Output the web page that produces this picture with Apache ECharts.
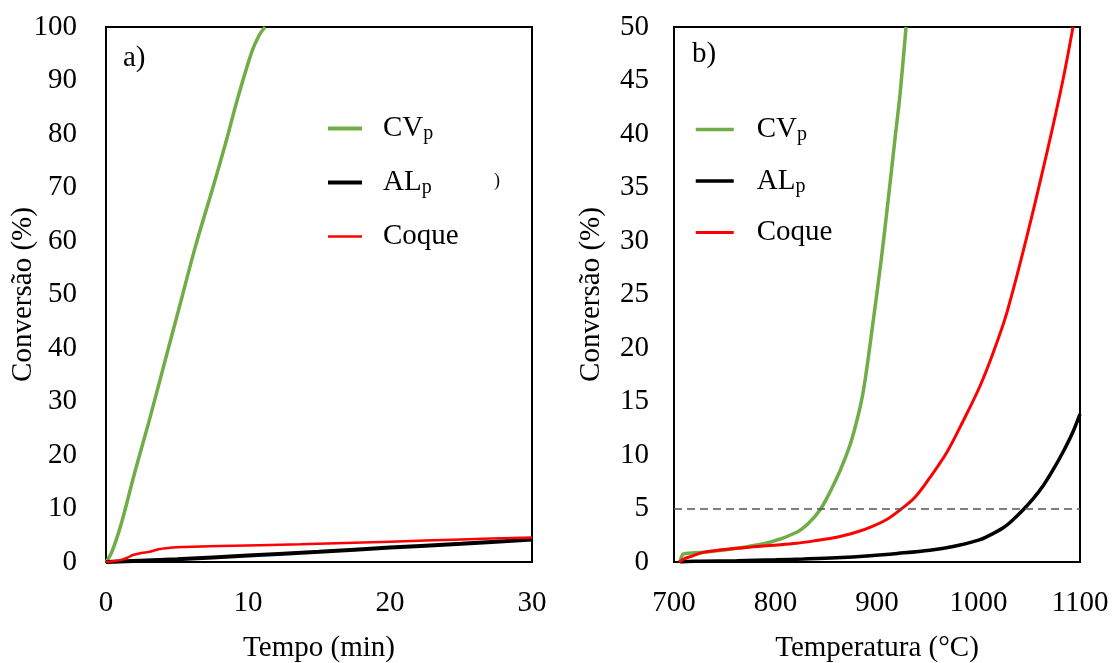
<!DOCTYPE html>
<html>
<head>
<meta charset="utf-8">
<script src="https://cdn.jsdelivr.net/npm/echarts@6/dist/echarts.min.js"></script>
<style>html,body{margin:0;padding:0;background:#fff;}#c{width:1115px;height:663px;}</style>
</head>
<body>
<div id="c"></div>
<script>
// ---- panel a) : Tempo (min) ----
const aCV_t   = [0, 0.4, 1.1, 2, 3, 4, 5.2, 6.3, 7.56, 8.5, 9.2, 10.26, 10.8, 11.2];
const aCV_y   = [0, 1.8, 7.4, 16.5, 26, 36, 48, 59, 70.3, 79, 86, 95.3, 98.5, 100];
const aAL_t   = [0, 5, 10, 15, 20, 25, 30];
const aAL_y   = [0, 0.5, 1.2, 1.9, 2.7, 3.4, 4.2];
const aCo_t   = [0, 0.5, 1, 1.5, 1.9, 2.5, 3.1, 3.7, 4.5, 5.4, 8, 13.7, 20, 25, 30];
const aCo_y   = [0, 0.15, 0.35, 0.8, 1.3, 1.7, 1.9, 2.4, 2.65, 2.8, 3.0, 3.3, 3.8, 4.2, 4.6];
// ---- panel b) : Temperatura (°C) ----
const bCV_T   = [705.9, 707.5, 709.2, 728.9, 761.8, 794.6, 820.9, 832.3, 843.8, 853.7, 863.5, 873.4, 879.3, 885.2, 889.2, 895.1, 904.0, 910.9, 917.7, 922.7, 928.6];
const bCV_y   = [0, 0.5, 0.75, 0.91, 1.28, 1.84, 2.78, 3.6, 4.86, 6.54, 8.5, 10.93, 12.9, 15.3, 17.6, 21.7, 28.13, 33.74, 39.53, 43.74, 50];
const bAL_T   = [706, 720, 761.8, 800, 827.4, 860, 893.1, 920, 952, 975, 1000, 1008, 1024.4, 1034, 1043.8, 1053.7, 1063.5, 1073.4, 1083.3, 1092.1, 1100];
const bAL_y   = [0, 0.08, 0.12, 0.2, 0.28, 0.4, 0.59, 0.8, 1.1, 1.45, 2.05, 2.35, 3.2, 3.95, 4.86, 5.89, 7.1, 8.6, 10.28, 11.96, 13.83];
const bCo_T   = [705, 710, 716, 729, 762, 795, 821, 840, 860.3, 880, 893.1, 910, 922.7, 937.4, 952.2, 969.0, 985, 1001.5, 1015, 1028.1, 1047.8, 1067.5, 1083.3, 1093.1];
const bCo_y   = [0, 0.3, 0.5, 0.9, 1.28, 1.55, 1.75, 2.0, 2.31, 2.8, 3.24, 4.0, 4.86, 6.05, 7.9, 10.28, 13.2, 16.45, 19.7, 23.36, 30.47, 38.3, 45.1, 50];
const refLine = 5;
const seriesNames = ['CVp', 'ALp', 'Coque'];

const zip = (xs, ys) => xs.map((x, i) => [x, ys[i]]);
const FONT = 'Liberation Serif';
const GREEN = '#70AD47', BLACK = '#000000', RED = '#FF0000';

const legendFormatter = function (name) {
  if (name === 'CVp') return '{sp| }{n|CV}{s|p}';
  if (name === 'ALp') return '{sp| }{n|AL}{s|p}';
  return '{sp| }{n|Coque}';
};
function legendRich(spw) {
  return {
    sp: { width: spw, fontSize: 10, lineHeight: 34 },
    n: { fontFamily: FONT, fontSize: 29, lineHeight: 34, color: '#000' },
    s: { fontFamily: FONT, fontSize: 20, color: '#000', padding: [11, 0, 0, 0] }
  };
}
const axisLabel = { fontFamily: FONT, fontSize: 29, color: '#000', formatter: v => String(v) };
const nameStyle = { fontFamily: FONT, fontSize: 29, color: '#000' };
const plain = { axisLine: { show: false }, axisTick: { show: false }, splitLine: { show: false }, nameMoveOverlap: false };

const chart = echarts.init(document.getElementById('c'), null, { renderer: 'canvas' });
chart.setOption({
  animation: false,
  backgroundColor: '#fff',
  grid: [
    { left: 106, top: 27, width: 426, height: 535, show: true, borderColor: '#000', borderWidth: 2, backgroundColor: 'transparent', containLabel: false, outerBoundsMode: 'none' },
    { left: 674, top: 27, width: 406, height: 535, show: true, borderColor: '#000', borderWidth: 2, backgroundColor: 'transparent', containLabel: false, outerBoundsMode: 'none' }
  ],
  xAxis: [
    Object.assign({ gridIndex: 0, type: 'value', min: 0, max: 30, interval: 10, name: 'Tempo (min)', nameLocation: 'middle', nameGap: 72, nameTextStyle: nameStyle,
      axisLabel: Object.assign({ margin: 27 }, axisLabel) }, plain),
    Object.assign({ gridIndex: 1, type: 'value', min: 700, max: 1100, interval: 100, name: 'Temperatura (°C)', nameLocation: 'middle', nameGap: 72, nameTextStyle: nameStyle,
      axisLabel: Object.assign({ margin: 27 }, axisLabel) }, plain)
  ],
  yAxis: [
    Object.assign({ gridIndex: 0, type: 'value', min: 0, max: 100, interval: 10, name: 'Conversão (%)', nameLocation: 'middle', nameGap: 68, nameTextStyle: nameStyle,
      axisLabel: Object.assign({ margin: 29 }, axisLabel) }, plain),
    Object.assign({ gridIndex: 1, type: 'value', min: 0, max: 50, interval: 5, name: 'Conversão (%)', nameLocation: 'middle', nameGap: 68, nameTextStyle: nameStyle,
      axisLabel: Object.assign({ margin: 25 }, axisLabel) }, plain)
  ],
  legend: [
    { orient: 'vertical', left: 321, top: 109, itemWidth: 34, itemHeight: 14, itemGap: 24, selectedMode: false,
      formatter: legendFormatter, textStyle: { rich: legendRich(16) },
      data: [
        { name: 'CVp', itemStyle: { opacity: 0 }, lineStyle: { width: 4, color: GREEN } },
        { name: 'ALp', itemStyle: { opacity: 0 }, lineStyle: { width: 4, color: BLACK } },
        { name: 'Coque', itemStyle: { opacity: 0 }, lineStyle: { width: 2.5, color: RED } }
      ] },
    { orient: 'vertical', left: 689, top: 110, itemWidth: 38, itemHeight: 14, itemGap: 21.5, selectedMode: false,
      formatter: legendFormatter, textStyle: { rich: legendRich(18) },
      data: [
        { name: 'CVp', itemStyle: { opacity: 0 }, lineStyle: { width: 3.5, color: GREEN } },
        { name: 'ALp', itemStyle: { opacity: 0 }, lineStyle: { width: 3.5, color: BLACK } },
        { name: 'Coque', itemStyle: { opacity: 0 }, lineStyle: { width: 3, color: RED } }
      ] }
  ],
  series: [
    { name: seriesNames[0], type: 'line', xAxisIndex: 0, yAxisIndex: 0, data: zip(aCV_t, aCV_y), symbol: 'none', smooth: 0.3, lineStyle: { color: GREEN, width: 3.5 }, itemStyle: { color: GREEN } },
    { name: seriesNames[1], type: 'line', xAxisIndex: 0, yAxisIndex: 0, data: zip(aAL_t, aAL_y), symbol: 'none', smooth: 0.3, lineStyle: { color: BLACK, width: 4 }, itemStyle: { color: BLACK } },
    { name: seriesNames[2], type: 'line', xAxisIndex: 0, yAxisIndex: 0, data: zip(aCo_t, aCo_y), symbol: 'none', smooth: 0.3, lineStyle: { color: RED, width: 2.5 }, itemStyle: { color: RED } },
    { name: seriesNames[0], type: 'line', xAxisIndex: 1, yAxisIndex: 1, data: zip(bCV_T, bCV_y), symbol: 'none', smooth: 0.35, lineStyle: { color: GREEN, width: 3.5 }, itemStyle: { color: GREEN } },
    { name: seriesNames[1], type: 'line', xAxisIndex: 1, yAxisIndex: 1, data: zip(bAL_T, bAL_y), symbol: 'none', smooth: 0.35, lineStyle: { color: BLACK, width: 3.5 }, itemStyle: { color: BLACK } },
    { name: seriesNames[2], type: 'line', xAxisIndex: 1, yAxisIndex: 1, data: zip(bCo_T, bCo_y), symbol: 'none', smooth: 0.35, lineStyle: { color: RED, width: 3 }, itemStyle: { color: RED },
      markLine: { silent: true, symbol: 'none', label: { show: false }, lineStyle: { color: '#555555', width: 1.5, type: [8, 5] }, data: [{ yAxis: refLine }] } }
  ],
  graphic: [
    { type: 'text', left: 123, top: 44, style: { text: 'a)', font: '29px "Liberation Serif"', fill: '#000' } },
    { type: 'text', left: 692, top: 40, style: { text: 'b)', font: '29px "Liberation Serif"', fill: '#000' } },
    { type: 'text', left: 494, top: 172, style: { text: ')', font: '18px "Liberation Serif"', fill: '#000' } }
  ]
});
</script>
</body>
</html>
